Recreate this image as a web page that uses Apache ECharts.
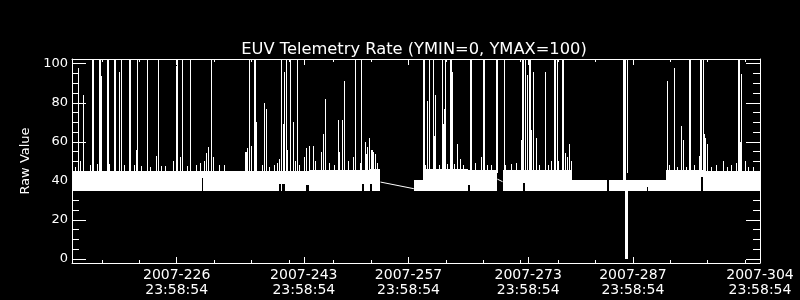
<!DOCTYPE html>
<html><head><meta charset="utf-8">
<script src="https://cdn.jsdelivr.net/npm/echarts@6/dist/echarts.min.js"></script>
<style>html,body{margin:0;padding:0;background:#000}#c{width:800px;height:300px}</style>
</head><body><div id="c"></div>
<script>
// ---------- text ----------
const titleText = 'EUV Telemetry Rate (YMIN=0, YMAX=100)';
const yName = 'Raw Value';
// ---------- x ticks (day-of-year 2007, at 23:58:54) ----------
const tickDoy = ['2007-226', '2007-243', '2007-257', '2007-273', '2007-287', '2007-304'];
const tickTime = '23:58:54';
const minorTickDoy = [216, 221, 231, 236, 241, 247, 252, 262, 267, 272, 277, 282, 292, 297, 302];
const xStartDoy = 212, xEndDoy = 304;
// ---------- y ticks ----------
const yMajor = [0, 20, 40, 60, 80, 100];
const yMinor = [5, 10, 15, 25, 30, 35, 45, 50, 55, 65, 70, 75, 85, 90, 95];
// ---------- data: dense telemetry envelope blocks (day, value) ----------
const bandStart = [213.00, 230.34, 230.57, 240.69, 240.91, 241.14, 241.45, 244.26, 244.66, 251.84, 252.02, 252.82, 253.05,
  258.71, 259.95, 265.93, 266.20, 270.57, 273.25, 273.60, 279.88, 284.79, 286.71, 286.97, 287.29, 289.88, 290.05, 292.42, 297.10, 297.41];
const bandEnd = [230.34, 230.57, 240.69, 240.91, 241.14, 241.45, 244.26, 244.66, 251.84, 252.02, 252.82, 253.05, 254.25,
  259.95, 265.93, 266.20, 269.88, 273.25, 273.60, 279.88, 284.59, 286.71, 287.07, 287.29, 289.88, 290.05, 292.42, 297.10, 297.41, 305.00];
const bandLow = [35, 41.5, 35, 38.4, 35, 38.4, 35, 38, 35, 38.4, 35, 38.4, 35,
  35, 35, 38, 35, 35, 39, 35, 35, 35, 35, 0, 35, 37, 35, 35, 42, 35];
const bandHigh = [45, 45, 45, 45, 45, 45, 45, 45, 45.5, 45.5, 45.5, 46, 46,
  40.4, 46, 45.5, 45.5, 45.5, 45.5, 45.5, 40.4, 40.4, 110, 40.4, 40.4, 40.4, 40.4, 45.5, 45.5, 45];
// ---------- data: individual spikes (day, peak value; 110 = off scale) ----------
const spikeDay = [
  213.42, 213.89, 214.12, 214.60, 215.43, 215.72, 215.94, 216.36, 216.61, 216.70, 216.87, 216.97, 217.73, 217.86, 218.04,
  218.67, 218.80, 219.37, 219.68, 220.04, 220.67, 220.81, 221.38, 221.61, 221.78, 222.28, 223.03, 223.16, 223.52, 224.36,
  224.55, 224.99, 225.53, 226.60, 226.96, 227.09, 227.54, 227.76, 228.40, 228.91, 229.64, 230.21, 230.71, 230.97, 231.19,
  231.72, 231.95, 232.75, 233.38, 236.16, 236.36, 236.50, 236.67, 236.94, 237.39, 237.57, 237.66, 238.51, 238.73, 239.00,
  239.40, 240.07, 240.51, 240.78, 241.05, 241.22, 241.41, 241.68, 241.85, 242.21, 242.65, 242.83, 243.19, 243.41, 244.08,
  244.35, 244.70, 245.23, 245.60, 246.30, 246.67, 246.84, 247.40, 248.10, 248.63, 248.81, 249.17, 249.43,
  249.97, 250.68, 250.85, 251.58, 251.66, 252.19, 252.38, 252.46, 252.73, 252.99, 253.18, 253.35, 253.53, 253.89,
  259.95, 260.14, 260.31, 260.58, 260.85, 261.29, 261.42, 261.56, 262.09, 262.55, 262.72, 262.81, 262.99, 263.25, 263.56,
  263.75, 263.88, 264.19, 264.59, 264.95, 265.30, 266.29, 266.47, 266.91, 267.71, 267.98,
  268.20, 268.61, 269.14, 269.72, 269.85, 270.79, 271.01, 271.82, 272.44, 273.06, 273.29, 273.42, 273.69, 273.86, 273.96,
  274.18, 274.32, 274.49, 274.76, 275.12, 275.56, 276.36, 276.77, 277.17, 277.48, 277.61, 277.88, 278.10, 278.55, 278.68,
  278.95, 279.21, 279.48, 279.75,
  287.33, 292.59, 292.95, 293.56, 294.02, 294.56, 294.83, 295.23, 295.63, 295.76, 296.23, 296.87, 297.06, 297.23, 297.41,
  297.60, 297.77, 297.94, 298.04, 298.57, 299.24, 300.18, 300.71, 301.15, 301.92, 302.18, 302.32, 302.41, 302.49, 303.12,
  303.48, 304.19];
const spikeTop = [
  47, 98, 50, 84, 48, 110, 110, 48.5, 53, 110, 110, 93.5, 110, 110, 48.5,
  110, 110, 96, 110, 48, 110, 110, 48, 56, 110, 47.5, 110, 110, 47, 53,
  110, 47.5, 47.5, 50, 99, 110, 52.4, 110, 47.5, 110, 48, 49, 50, 54.4, 57.5,
  110, 52, 48, 48, 55, 55, 57, 110, 58, 110, 110, 70, 48, 79.8, 77,
  47, 48, 49, 51, 110, 69, 96, 110, 56, 110, 70, 50, 110, 48, 52,
  57, 58, 58, 50, 55, 64, 82, 49, 48, 71, 55, 71, 91,
  50, 52, 110, 49, 110, 60, 53.6, 57.5, 62, 56, 56, 55, 54, 49,
  110, 110, 48, 81, 110, 110, 63, 84, 48, 110, 69, 77, 110, 48.5, 110,
  110, 96, 48.5, 58.7, 51, 48, 110, 110, 49, 52, 110,
  110, 48, 48, 110, 110, 110, 48, 48.5, 49, 61, 110, 110, 110, 66, 94,
  110, 110, 66, 96, 62, 48, 96, 48, 50, 110, 110, 110, 50, 110, 110,
  54.4, 52, 58.7, 50,
  110, 91, 48, 98, 47, 68, 61, 47, 110, 110, 48, 52.7, 110, 110, 110,
  64, 62, 59, 52, 47, 48, 50, 47, 48, 49, 110, 110, 60, 94.7, 50,
  47, 47];
// ---------- data: straight connections across data gaps ----------
const gapFromDay = [254.25, 269.88], gapFromVal = [39.4, 40.9];
const gapToDay = [258.71, 270.57], gapToVal = [36.0, 39.6];

// ---------- build ----------
const FRAC = (23 * 3600 + 58 * 60 + 54) / 86400;
const majorVals = tickDoy.map(s => parseInt(s.split('-')[1], 10) + FRAC);
const minorVals = minorTickDoy.map(d => d + FRAC);
const X_MIN = xStartDoy + FRAC, X_MAX = xEndDoy + FRAC;
const Y_MIN = -2.05, Y_MAX = 102.42;
const FONT = 'DejaVu Sans';
const WHITE = '#ffffff';

function xAxisDef(pos, vals, len, labels, line) {
  return {
    type: 'value', min: X_MIN, max: X_MAX, position: pos,
    axisLine: { show: line, onZero: false, lineStyle: { color: WHITE, width: 1 } },
    axisTick: { show: true, inside: true, length: len, customValues: vals, lineStyle: { color: WHITE, width: 1 } },
    axisLabel: labels ? {
      show: true, customValues: vals, color: WHITE, fontFamily: FONT, fontSize: 14, lineHeight: 15, margin: 5,
      showMinLabel: true, showMaxLabel: true, hideOverlap: false,
      formatter: v => { const i = majorVals.findIndex(m => Math.abs(m - v) < 1e-4); return i < 0 ? '' : tickDoy[i] + '\n' + tickTime; }
    } : { show: false },
    splitLine: { show: false }
  };
}
function yAxisDef(pos, vals, len, labels, line) {
  const a = {
    type: 'value', min: Y_MIN, max: Y_MAX, position: pos,
    axisLine: { show: line, onZero: false, lineStyle: { color: WHITE, width: 1 } },
    axisTick: { show: true, inside: true, length: len, customValues: vals, lineStyle: { color: WHITE, width: 1 } },
    axisLabel: labels ? { show: true, customValues: vals, color: WHITE, fontFamily: FONT, fontSize: 13, margin: 4, showMinLabel: true, showMaxLabel: true } : { show: false },
    splitLine: { show: false }
  };
  if (labels) {
    a.name = yName; a.nameLocation = 'middle'; a.nameGap = 40; a.nameRotate = 90;
    a.nameTextStyle = { color: WHITE, fontFamily: FONT, fontSize: 13 };
  }
  return a;
}

const bandData = bandStart.map((s, i) => [s, bandEnd[i], bandLow[i], bandHigh[i]]);
const spikeData = spikeDay.map((d, i) => [d, spikeTop[i]]);
const gapData = gapFromDay.map((d, i) => [d, gapFromVal[i], gapToDay[i], gapToVal[i]]);

const chart = echarts.init(document.getElementById('c'), null, { renderer: 'canvas' });
chart.setOption({
  backgroundColor: '#000',
  animation: false,
  title: {
    text: titleText, left: 409, top: 37, textAlign: 'center',
    textStyle: { color: WHITE, fontFamily: FONT, fontSize: 16.3, fontWeight: 'normal' }
  },
  grid: { left: 72, right: 40, top: 59, bottom: 37, containLabel: false, outerBoundsMode: 'none' },
  xAxis: [
    xAxisDef('bottom', majorVals, 6, true, true),
    xAxisDef('bottom', minorVals, 3, false, false),
    xAxisDef('top', majorVals, 6, false, true),
    xAxisDef('top', minorVals, 3, false, false)
  ],
  yAxis: [
    yAxisDef('left', yMajor, 14, true, true),
    yAxisDef('left', yMinor, 7, false, false),
    yAxisDef('right', yMajor, 14, false, true),
    yAxisDef('right', yMinor, 7, false, false)
  ],
  series: [
    {
      type: 'custom', xAxisIndex: 0, yAxisIndex: 0, clip: true, data: bandData,
      encode: { x: [0, 1], y: [2, 3] },
      renderItem: (params, api) => {
        const p0 = api.coord([api.value(0), api.value(3)]);
        const p1 = api.coord([api.value(1), api.value(2)]);
        const x0 = Math.round(p0[0]);
        const x1 = Math.max(Math.round(p1[0]), x0 + 1);
        const y0 = Math.round(p0[1]), y1 = Math.round(p1[1]);
        return { type: 'rect', shape: { x: x0, y: y0, width: x1 - x0, height: y1 - y0 }, style: { fill: WHITE } };
      }
    },
    {
      type: 'custom', xAxisIndex: 0, yAxisIndex: 0, clip: true, data: spikeData,
      encode: { x: 0, y: 1 },
      renderItem: (params, api) => {
        const base = api.coord([api.value(0), 44]);
        const top = api.coord([api.value(0), api.value(1)]);
        const x = Math.floor(base[0]);
        const yT = Math.round(top[1]);
        return { type: 'rect', shape: { x: x, y: yT, width: 1, height: Math.round(base[1]) - yT }, style: { fill: WHITE } };
      }
    },
    {
      type: 'custom', xAxisIndex: 0, yAxisIndex: 0, clip: true, data: gapData,
      encode: { x: [0, 2], y: [1, 3] },
      renderItem: (params, api) => {
        const a = api.coord([api.value(0), api.value(1)]);
        const b = api.coord([api.value(2), api.value(3)]);
        return { type: 'line', shape: { x1: a[0], y1: a[1], x2: b[0], y2: b[1] }, style: { stroke: WHITE, lineWidth: 1 } };
      }
    }
  ]
});
</script>
</body></html>
